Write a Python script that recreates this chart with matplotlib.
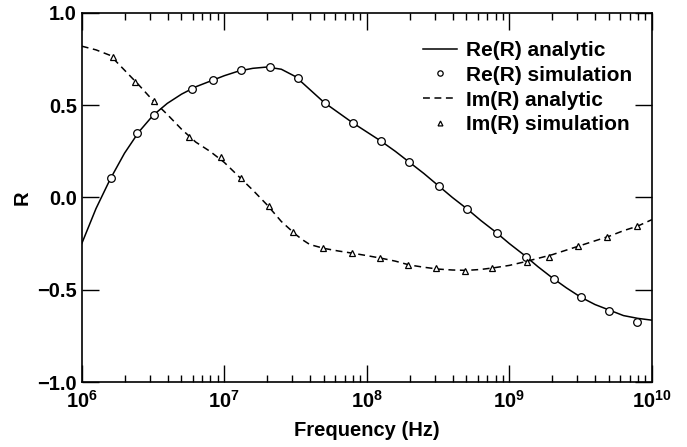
import numpy as np
import matplotlib
matplotlib.use("Agg")
import matplotlib.pyplot as plt
from matplotlib.ticker import LogLocator, NullFormatter, FixedLocator

### Style
plt.rcParams['font.family'] = ['Liberation Sans', 'DejaVu Sans']
plt.rcParams['font.weight'] = 'bold'
plt.rcParams['mathtext.fontset'] = 'custom'
plt.rcParams['mathtext.rm'] = 'Liberation Sans:bold'
plt.rcParams['mathtext.bf'] = 'Liberation Sans:bold'
plt.rcParams['axes.unicode_minus'] = True

### Data (log10 of frequency)
re_ana_logf = [6.0, 6.1, 6.2, 6.3, 6.4, 6.5, 6.6, 6.7, 6.8, 6.9, 7.0, 7.1, 7.2, 7.3, 7.4,
               7.5, 7.6, 7.7, 7.8, 7.9, 8.0, 8.1, 8.2, 8.3, 8.4, 8.5, 8.6, 8.7, 8.8, 8.9,
               9.0, 9.1, 9.2, 9.3, 9.4, 9.5, 9.6, 9.7, 9.8, 9.9, 10.0]
re_ana = [-0.25, -0.06, 0.10, 0.24, 0.355, 0.445, 0.51, 0.56, 0.60, 0.63, 0.66, 0.685, 0.70,
          0.707, 0.695, 0.655, 0.585, 0.515, 0.46, 0.405, 0.355, 0.305, 0.25, 0.19, 0.13,
          0.065, 0.0, -0.06, -0.125, -0.185, -0.25, -0.31, -0.375, -0.435, -0.49, -0.54,
          -0.58, -0.61, -0.64, -0.655, -0.665]

im_ana_logf = [6.0, 6.1, 6.2, 6.3, 6.4, 6.5, 6.6, 6.7, 6.8, 6.9, 7.0, 7.1, 7.2, 7.3, 7.4,
               7.5, 7.55, 7.6, 7.7, 7.8, 7.9, 8.0, 8.1, 8.2, 8.3, 8.4, 8.5, 8.6, 8.7, 8.8,
               8.9, 9.0, 9.1, 9.2, 9.3, 9.4, 9.5, 9.6, 9.7, 9.8, 9.9, 10.0]
im_ana = [0.82, 0.80, 0.77, 0.69, 0.61, 0.525, 0.45, 0.37, 0.30, 0.25, 0.19, 0.115, 0.04,
          -0.04, -0.13, -0.20, -0.23, -0.255, -0.276, -0.29, -0.302, -0.315, -0.329, -0.345,
          -0.366, -0.378, -0.388, -0.393, -0.395, -0.39, -0.38, -0.368, -0.35, -0.33, -0.31,
          -0.285, -0.26, -0.235, -0.21, -0.18, -0.155, -0.12]

re_sim_logf = [6.204, 6.386, 6.505, 6.772, 6.919, 7.116, 7.319, 7.516, 7.705, 7.902,
               8.098, 8.295, 8.505, 8.702, 8.912, 9.116, 9.312, 9.502, 9.698, 9.895]
re_sim = [0.106, 0.350, 0.447, 0.588, 0.637, 0.691, 0.707, 0.648, 0.512, 0.404,
          0.306, 0.192, 0.062, -0.062, -0.192, -0.322, -0.442, -0.539, -0.615, -0.675]

im_sim_logf = [6.218, 6.372, 6.505, 6.751, 6.975, 7.116, 7.312, 7.481, 7.691, 7.895,
               8.091, 8.288, 8.484, 8.688, 8.877, 9.123, 9.277, 9.481, 9.684, 9.895]
im_sim = [0.762, 0.626, 0.523, 0.328, 0.220, 0.106, -0.046, -0.187, -0.274, -0.301,
          -0.328, -0.366, -0.382, -0.398, -0.382, -0.350, -0.322, -0.263, -0.214, -0.154]

xtick_exp = [6, 7, 8, 9, 10]
ytick_vals = [-1.0, -0.5, 0.0, 0.5, 1.0]

### Figure
fig = plt.figure(figsize=(6.87, 4.47), dpi=100)
ax = fig.add_axes([0.119, 0.1454, 0.83, 0.8256])

lw = 1.1
ax.plot(10**np.array(re_ana_logf), re_ana, color='k', lw=lw, label='Re(R) analytic')
ax.plot(10**np.array(re_sim_logf), re_sim, ls='none', marker='o', ms=5.5, mfc='white',
        mec='k', mew=0.9, label='Re(R) simulation')
ax.plot(10**np.array(im_ana_logf), im_ana, color='k', lw=lw, ls=(0, (4.5, 3)), label='Im(R) analytic')
ax.plot(10**np.array(im_sim_logf), im_sim, ls='none', marker='^', ms=5, mfc='white',
        mec='k', mew=0.9, label='Im(R) simulation')

ax.set_xscale('log')
ax.set_xlim(1e6, 1e10)
ax.set_ylim(-1.0, 1.0)

ax.xaxis.set_major_locator(FixedLocator([10.0**e for e in xtick_exp]))
ax.set_xticklabels([r'$\mathbf{10^{%d}}$' % e for e in xtick_exp])
ax.xaxis.set_minor_locator(LogLocator(base=10, subs=np.arange(2, 10), numticks=20))
ax.xaxis.set_minor_formatter(NullFormatter())
ax.set_yticks(ytick_vals)
ax.set_yticklabels(['%.1f' % v if v >= 0 else '\u2212%.1f' % abs(v) for v in ytick_vals])

ax.tick_params(which='both', direction='in', top=True, right=True, labelsize=14.5, width=1)
ax.tick_params(which='major', length=12)
ax.tick_params(which='minor', length=5)
ax.tick_params(axis='x', which='major', pad=6)
for s in ax.spines.values():
    s.set_linewidth(1.2)

ax.set_xlabel('Frequency (Hz)', fontsize=14.5, fontweight='bold', labelpad=6)
ax.set_ylabel('R', fontsize=14.5, fontweight='bold', labelpad=4)

leg = ax.legend(loc='upper right', frameon=False, fontsize=15, handlelength=1.6,
                handletextpad=0.45, labelspacing=0.28, borderaxespad=0.5,
                bbox_to_anchor=(0.998, 0.975), markerscale=0.7)

fig.savefig('out.png', dpi=100)
